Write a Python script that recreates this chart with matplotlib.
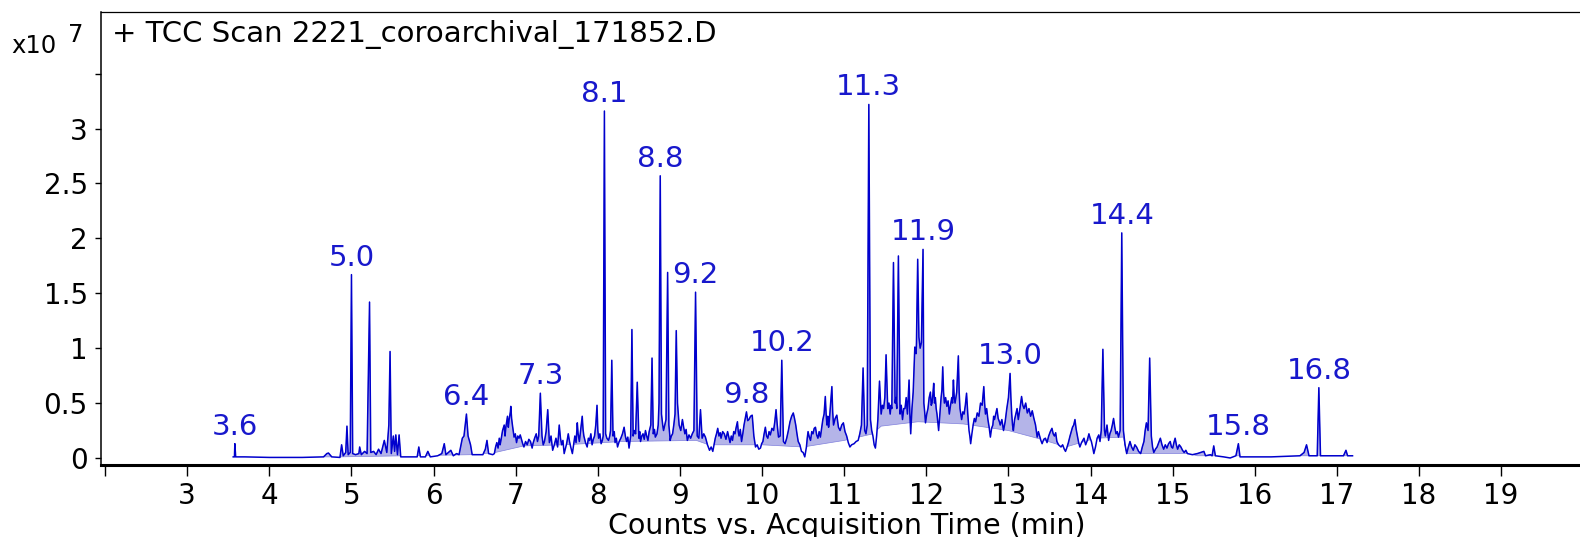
import numpy as np
import matplotlib
matplotlib.use('Agg')
from matplotlib import pyplot as plt

# TIC trace: (time in min, counts in x10^7)
trace_early = [(3.56, 0.01), (3.575, 0.01), (3.58, 0.13), (3.59, 0.01), (3.70, 0.01), (4.00, 0.005), (4.40, 0.005),
               (4.66, 0.01), (4.70, 0.04), (4.72, 0.045), (4.76, 0.01), (4.86, 0.005), (4.88, 0.12), (4.90, 0.02),
               (4.93, 0.05), (4.945, 0.29), (4.96, 0.03), (4.985, 0.05), (5.00, 1.67), (5.015, 0.04), (5.05, 0.03),
               (5.09, 0.04), (5.10, 0.10), (5.12, 0.03), (5.16, 0.06), (5.19, 0.04), (5.22, 1.42), (5.235, 0.05),
               (5.27, 0.06), (5.30, 0.03), (5.33, 0.08), (5.36, 0.04), (5.40, 0.16), (5.43, 0.05), (5.455, 0.30),
               (5.47, 0.97), (5.485, 0.04), (5.51, 0.20), (5.525, 0.06), (5.54, 0.21), (5.56, 0.03), (5.58, 0.21),
               (5.60, 0.01), (5.65, 0.01), (5.75, 0.01), (5.80, 0.01), (5.82, 0.10), (5.84, 0.01), (5.90, 0.01),
               (5.93, 0.06), (5.96, 0.01), (6.05, 0.02), (6.10, 0.04), (6.13, 0.13), (6.15, 0.03), (6.21, 0.07),
               (6.24, 0.02), (6.28, 0.04), (6.31, 0.03), (6.35, 0.18), (6.37, 0.20), (6.40, 0.40), (6.42, 0.20),
               (6.45, 0.12), (6.47, 0.03), (6.60, 0.03), (6.63, 0.08), (6.65, 0.16), (6.67, 0.04)]

trace_mid1 = [(6.72, 0.03), (6.74, 0.04), (6.755, 0.10), (6.77, 0.14), (6.785, 0.09), (6.80, 0.18), (6.81, 0.12),
              (6.82, 0.16), (6.84, 0.25), (6.86, 0.30), (6.87, 0.20), (6.88, 0.28), (6.90, 0.38), (6.91, 0.28),
              (6.92, 0.35), (6.935, 0.42), (6.94, 0.47), (6.95, 0.36), (6.96, 0.30), (6.98, 0.19), (6.995, 0.22),
              (7.01, 0.14), (7.025, 0.20), (7.04, 0.18), (7.055, 0.21), (7.07, 0.17), (7.085, 0.13), (7.10, 0.10),
              (7.12, 0.15), (7.14, 0.12), (7.16, 0.17), (7.18, 0.15), (7.20, 0.09), (7.21, 0.13), (7.23, 0.18),
              (7.25, 0.22), (7.265, 0.15), (7.28, 0.20), (7.30, 0.59), (7.32, 0.20), (7.335, 0.12), (7.35, 0.15),
              (7.37, 0.24), (7.39, 0.44), (7.41, 0.14), (7.43, 0.20), (7.45, 0.07), (7.47, 0.12), (7.49, 0.18),
              (7.51, 0.10), (7.53, 0.30), (7.545, 0.18), (7.56, 0.12), (7.575, 0.16), (7.59, 0.04), (7.61, 0.10),
              (7.62, 0.13), (7.64, 0.22), (7.655, 0.15), (7.67, 0.10), (7.69, 0.04), (7.705, 0.12), (7.72, 0.20),
              (7.735, 0.14), (7.75, 0.32), (7.76, 0.22), (7.775, 0.15), (7.79, 0.25), (7.81, 0.38), (7.82, 0.26),
              (7.83, 0.20), (7.85, 0.14), (7.87, 0.10), (7.885, 0.18), (7.90, 0.16), (7.915, 0.22), (7.93, 0.12),
              (7.945, 0.17), (7.96, 0.20), (7.975, 0.30), (7.99, 0.48), (8.00, 0.25), (8.01, 0.18), (8.025, 0.22),
              (8.04, 0.13), (8.055, 0.16), (8.065, 0.20), (8.08, 3.16), (8.095, 0.22), (8.11, 0.18), (8.13, 0.16),
              (8.145, 0.20), (8.155, 0.25), (8.17, 0.89), (8.185, 0.20), (8.20, 0.24), (8.21, 0.14), (8.225, 0.18),
              (8.24, 0.10), (8.26, 0.15), (8.28, 0.18), (8.30, 0.22), (8.32, 0.28), (8.335, 0.20), (8.35, 0.15),
              (8.365, 0.19), (8.38, 0.09), (8.40, 0.20), (8.415, 1.17), (8.43, 0.20), (8.445, 0.25), (8.46, 0.22),
              (8.48, 0.69), (8.50, 0.18), (8.51, 0.24), (8.52, 0.15), (8.535, 0.20), (8.55, 0.22), (8.565, 0.17),
              (8.58, 0.25), (8.595, 0.20), (8.61, 0.16), (8.625, 0.24), (8.645, 0.30), (8.66, 0.91), (8.675, 0.22),
              (8.69, 0.26), (8.70, 0.19), (8.72, 0.22), (8.735, 0.30), (8.745, 0.50), (8.76, 2.57), (8.775, 0.40),
              (8.79, 0.30), (8.80, 0.25), (8.815, 0.30), (8.83, 0.35), (8.85, 1.69), (8.865, 0.30), (8.875, 0.22),
              (8.88, 0.16), (8.895, 0.20), (8.91, 0.22), (8.925, 0.30), (8.94, 0.40), (8.955, 1.16), (8.97, 0.50),
              (8.98, 0.40), (8.99, 0.30), (9.01, 0.25), (9.03, 0.35), (9.045, 0.28), (9.06, 0.22), (9.075, 0.26),
              (9.09, 0.16), (9.11, 0.21), (9.13, 0.18), (9.15, 0.22), (9.17, 0.25), (9.19, 1.51), (9.21, 0.20),
              (9.23, 0.18), (9.25, 0.44), (9.27, 0.18), (9.29, 0.22), (9.31, 0.19), (9.335, 0.12), (9.36, 0.07)]

trace_mid2 = [(9.38, 0.10), (9.40, 0.06), (9.415, 0.12), (9.43, 0.18), (9.445, 0.22), (9.46, 0.27), (9.475, 0.20),
              (9.49, 0.23), (9.50, 0.18), (9.52, 0.24), (9.54, 0.22), (9.56, 0.17), (9.58, 0.24), (9.595, 0.19),
              (9.61, 0.14), (9.625, 0.20), (9.64, 0.16), (9.655, 0.24), (9.67, 0.22), (9.685, 0.28), (9.70, 0.33),
              (9.71, 0.24), (9.72, 0.20), (9.735, 0.26), (9.75, 0.15), (9.765, 0.22), (9.78, 0.30), (9.795, 0.36),
              (9.81, 0.42), (9.825, 0.34), (9.84, 0.35), (9.86, 0.38), (9.88, 0.39), (9.89, 0.30), (9.90, 0.20),
              (9.92, 0.10), (9.94, 0.12), (9.96, 0.08), (9.98, 0.09), (9.995, 0.13), (10.01, 0.15), (10.025, 0.22),
              (10.04, 0.28), (10.055, 0.20), (10.07, 0.18), (10.085, 0.24), (10.10, 0.21), (10.12, 0.27),
              (10.14, 0.25), (10.155, 0.33), (10.17, 0.44), (10.185, 0.30), (10.20, 0.19), (10.22, 0.20),
              (10.24, 0.89), (10.26, 0.15), (10.28, 0.13), (10.30, 0.18), (10.32, 0.25), (10.34, 0.33),
              (10.36, 0.38), (10.38, 0.41), (10.395, 0.36), (10.41, 0.30), (10.425, 0.22), (10.44, 0.15),
              (10.46, 0.12), (10.48, 0.06), (10.50, 0.05), (10.52, 0.01), (10.54, 0.10), (10.55, 0.18),
              (10.56, 0.24), (10.575, 0.19), (10.59, 0.16), (10.605, 0.24), (10.62, 0.22), (10.635, 0.27),
              (10.65, 0.28), (10.665, 0.21), (10.68, 0.18), (10.695, 0.24), (10.71, 0.19), (10.725, 0.27),
              (10.74, 0.35), (10.755, 0.40), (10.77, 0.56), (10.78, 0.40), (10.79, 0.30), (10.80, 0.38),
              (10.81, 0.28), (10.82, 0.35), (10.83, 0.45), (10.84, 0.55), (10.85, 0.65), (10.86, 0.42),
              (10.87, 0.30), (10.89, 0.36), (10.91, 0.39), (10.93, 0.28), (10.95, 0.25), (10.97, 0.30),
              (10.99, 0.32), (11.01, 0.24), (11.03, 0.20), (11.05, 0.14), (11.07, 0.10), (11.09, 0.12),
              (11.12, 0.13), (11.145, 0.15), (11.17, 0.16), (11.19, 0.22), (11.21, 0.30), (11.23, 0.82),
              (11.25, 0.25), (11.265, 0.22), (11.28, 0.30), (11.30, 3.22), (11.32, 0.35), (11.335, 0.25),
              (11.35, 0.20), (11.365, 0.12), (11.38, 0.09), (11.395, 0.20), (11.41, 0.35), (11.43, 0.70),
              (11.45, 0.40), (11.465, 0.48), (11.48, 0.45), (11.495, 0.55), (11.51, 0.94), (11.53, 0.45),
              (11.545, 0.50), (11.56, 0.40), (11.57, 0.48), (11.58, 0.45), (11.60, 1.78), (11.62, 0.50),
              (11.63, 0.55), (11.64, 0.45), (11.66, 1.84), (11.68, 0.40), (11.695, 0.48), (11.71, 0.35),
              (11.725, 0.45), (11.74, 0.45), (11.755, 0.55), (11.77, 0.40), (11.79, 0.71), (11.80, 0.40),
              (11.81, 0.22), (11.825, 0.45), (11.84, 0.60), (11.85, 0.80), (11.86, 1.01), (11.875, 0.95),
              (11.88, 1.05), (11.895, 1.81), (11.91, 1.10), (11.925, 1.00), (11.94, 1.05), (11.96, 1.90),
              (11.97, 0.50), (11.98, 0.42), (11.99, 0.32)]

trace_mid3 = [(12.005, 0.40), (12.02, 0.45), (12.035, 0.55), (12.05, 0.60), (12.06, 0.48), (12.07, 0.50),
              (12.08, 0.58), (12.09, 0.68), (12.10, 0.50), (12.11, 0.55), (12.12, 0.45), (12.13, 0.40),
              (12.14, 0.32), (12.15, 0.25), (12.165, 0.40), (12.18, 0.55), (12.19, 0.62), (12.20, 0.83),
              (12.21, 0.60), (12.22, 0.50), (12.235, 0.55), (12.25, 0.47), (12.265, 0.52), (12.28, 0.40),
              (12.295, 0.48), (12.31, 0.55), (12.32, 0.50), (12.33, 0.71), (12.34, 0.55), (12.35, 0.50),
              (12.37, 0.60), (12.39, 0.93), (12.40, 0.60), (12.41, 0.45), (12.42, 0.40), (12.43, 0.35),
              (12.445, 0.42), (12.46, 0.40), (12.475, 0.48), (12.49, 0.59), (12.505, 0.40), (12.52, 0.25),
              (12.53, 0.20), (12.54, 0.13), (12.555, 0.22), (12.57, 0.30), (12.585, 0.36), (12.60, 0.33),
              (12.62, 0.41), (12.64, 0.38), (12.66, 0.50), (12.68, 0.48), (12.70, 0.65), (12.71, 0.50),
              (12.72, 0.40), (12.735, 0.45), (12.75, 0.35), (12.765, 0.28), (12.78, 0.19), (12.795, 0.27),
              (12.81, 0.30), (12.82, 0.38), (12.83, 0.35), (12.845, 0.40), (12.86, 0.45), (12.875, 0.36),
              (12.89, 0.33), (12.90, 0.30), (12.92, 0.35), (12.94, 0.25), (12.96, 0.33), (12.98, 0.45),
              (13.00, 0.55), (13.02, 0.77), (13.03, 0.55), (13.04, 0.40), (13.05, 0.30), (13.06, 0.25),
              (13.075, 0.35), (13.09, 0.40), (13.105, 0.45), (13.12, 0.35), (13.14, 0.45), (13.16, 0.56),
              (13.175, 0.48), (13.19, 0.45), (13.21, 0.50), (13.23, 0.41), (13.25, 0.45), (13.27, 0.38),
              (13.29, 0.43), (13.31, 0.36), (13.33, 0.30), (13.35, 0.19), (13.365, 0.24), (13.38, 0.20),
              (13.395, 0.16), (13.41, 0.13), (13.43, 0.17), (13.45, 0.18), (13.47, 0.14), (13.49, 0.20),
              (13.51, 0.24), (13.53, 0.27), (13.545, 0.22), (13.56, 0.20), (13.575, 0.23), (13.59, 0.15),
              (13.61, 0.12), (13.64, 0.10), (13.66, 0.12), (13.68, 0.08), (13.695, 0.06), (13.71, 0.09),
              (13.73, 0.14), (13.75, 0.20), (13.765, 0.24), (13.78, 0.28), (13.795, 0.30), (13.81, 0.35),
              (13.825, 0.26), (13.84, 0.20), (13.855, 0.14), (13.87, 0.10), (13.89, 0.14), (13.92, 0.18),
              (13.94, 0.12), (13.96, 0.16), (13.98, 0.22), (13.995, 0.18), (14.01, 0.15), (14.025, 0.10),
              (14.04, 0.04), (14.06, 0.10), (14.08, 0.18), (14.10, 0.21), (14.115, 0.15), (14.13, 0.25),
              (14.15, 0.99), (14.17, 0.25), (14.18, 0.20), (14.20, 0.30), (14.22, 0.16), (14.235, 0.22),
              (14.25, 0.25), (14.265, 0.30), (14.28, 0.36), (14.295, 0.28), (14.31, 0.22), (14.325, 0.24),
              (14.34, 0.19), (14.36, 0.25), (14.38, 2.05), (14.40, 0.25), (14.42, 0.12), (14.44, 0.04)]

trace_late = [(14.46, 0.10), (14.48, 0.15), (14.50, 0.10), (14.52, 0.07), (14.54, 0.12), (14.56, 0.10),
              (14.585, 0.06), (14.61, 0.04), (14.63, 0.10), (14.65, 0.15), (14.665, 0.25), (14.68, 0.32),
              (14.70, 0.25), (14.72, 0.91), (14.74, 0.20), (14.755, 0.10), (14.77, 0.05), (14.79, 0.08),
              (14.81, 0.10), (14.83, 0.14), (14.85, 0.18), (14.87, 0.12), (14.89, 0.08), (14.91, 0.12),
              (14.93, 0.09), (14.95, 0.13), (14.97, 0.15), (14.985, 0.10), (15.00, 0.09), (15.015, 0.14),
              (15.03, 0.18), (15.045, 0.12), (15.06, 0.08), (15.08, 0.12), (15.10, 0.10), (15.12, 0.07),
              (15.14, 0.05), (15.16, 0.07), (15.18, 0.04), (15.24, 0.03), (15.30, 0.04), (15.38, 0.06),
              (15.40, 0.02), (15.46, 0.03), (15.48, 0.02), (15.50, 0.11), (15.52, 0.02), (15.62, 0.01),
              (15.70, 0.00), (15.77, 0.02), (15.80, 0.13), (15.82, 0.01), (15.90, 0.01), (16.20, 0.01),
              (16.55, 0.02), (16.60, 0.05), (16.63, 0.12), (16.66, 0.02), (16.76, 0.02), (16.78, 0.64),
              (16.80, 0.02), (17.08, 0.02), (17.11, 0.07), (17.13, 0.02), (17.19, 0.02)]

# integration baseline under the shaded areas
base_t = [3.56, 4.85, 6.47, 6.75, 7.10, 7.60, 8.30, 9.20, 9.35, 10.00, 10.50, 11.00, 11.35, 11.45, 11.90,
          12.45, 13.00, 13.40, 13.70, 14.06, 14.40, 14.44, 15.20, 15.30, 17.19]
base_y = [0.01, 0.01, 0.03, 0.05, 0.11, 0.12, 0.15, 0.16, 0.12, 0.12, 0.10, 0.16, 0.22, 0.29, 0.33,
          0.31, 0.25, 0.17, 0.10, 0.18, 0.19, 0.04, 0.04, 0.02, 0.02]

# labelled peaks
peak_t = [3.58, 5.00, 6.40, 7.30, 8.08, 8.76, 9.19, 9.81, 10.24, 11.30, 11.96, 13.02, 14.38, 15.80, 16.78]
peak_labels = ['3.6', '5.0', '6.4', '7.3', '8.1', '8.8', '9.2', '9.8', '10.2', '11.3', '11.9', '13.0',
               '14.4', '15.8', '16.8']

x_ticks = list(range(2, 20))
x_ticklabels = [''] + [str(v) for v in range(3, 20)]
y_ticks = [0, 0.5, 1, 1.5, 2, 2.5, 3, 3.5]
y_ticklabels = ['0', '0.5', '1', '1.5', '2', '2.5', '3', '']

blue = '#0000cd'
trace = np.array(trace_early + trace_mid1 + trace_mid2 + trace_mid3 + trace_late)
t = trace[:, 0]
y = trace[:, 1]
base = np.interp(t, base_t, base_y)

fig = plt.figure(figsize=(15.8, 5.37), dpi=100)
ax = fig.add_axes([101 / 1580, 72 / 537, 1479 / 1580, 453 / 537])

ax.fill_between(t, base, y, where=y > base, interpolate=True, facecolor='#b4b4e8',
                edgecolor='#8080dc', lw=0.5, zorder=1)
ax.plot(t, y, color=blue, lw=1.1, zorder=2)

for lab, pt in zip(peak_labels, peak_t):
    py = y[np.argmin(np.abs(t - pt))]
    ax.annotate(lab, (pt, py), xytext=(0, 6.5), textcoords='offset points',
                ha='center', va='baseline', color='#1818cc', fontsize=21)

ax.set_xlim(1.95, 19.96)
ax.set_ylim(-0.064, 4.062)
ax.set_xticks(x_ticks)
ax.set_xticklabels(x_ticklabels)
ax.set_yticks(y_ticks)
ax.set_yticklabels(y_ticklabels)
ax.tick_params(axis='x', direction='out', length=8, width=1, pad=4.5, labelsize=20)
ax.tick_params(axis='y', direction='out', length=4.5, width=1, pad=5, labelsize=20)

ax.spines['right'].set_visible(False)
ax.spines['bottom'].set_linewidth(2.2)
ax.spines['left'].set_linewidth(1.1)
ax.spines['top'].set_linewidth(0.9)

ax.set_xlabel('Counts vs. Acquisition Time (min)', fontsize=20.5, va='baseline')
ax.xaxis.set_label_coords(0.504, -0.1514)

fig.text(111.7 / 1580, (537 - 41.7) / 537, '+ TCC Scan 2221_coroarchival_171852.D',
         fontsize=21, va='baseline', ha='left')
fig.text(11.7 / 1580, (537 - 53.3) / 537, 'x10', fontsize=17.5, va='baseline', ha='left')
fig.text(68.3 / 1580, (537 - 41.7) / 537, '7', fontsize=17.5, va='baseline', ha='left')

fig.savefig('out.png', dpi=100)
